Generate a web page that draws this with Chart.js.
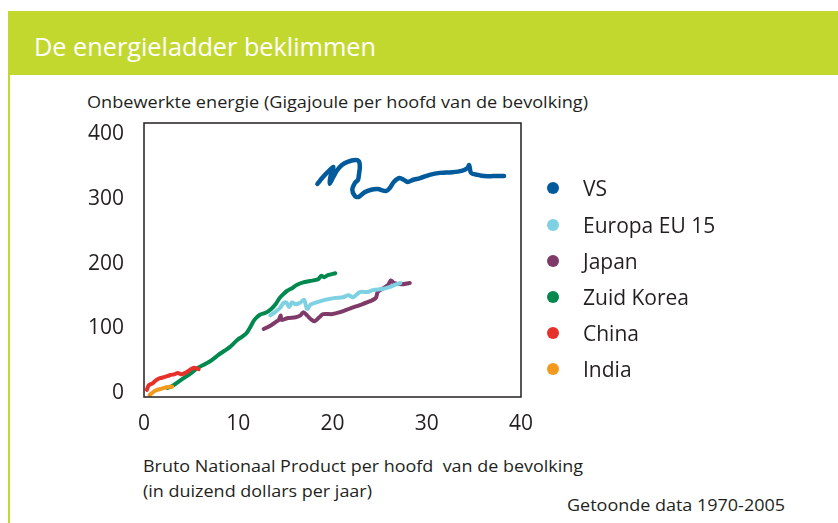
<!DOCTYPE html>
<html>
<head>
<meta charset="utf-8">
<script src="https://cdn.jsdelivr.net/npm/chart.js@4.4.0/dist/chart.umd.min.js"></script>
<style>
  html, body { margin:0; padding:0; background:#fff; }
  #wrap { position:relative; width:838px; height:523px; overflow:hidden; font-family:'Open Sans', sans-serif; color:#231f20; }
  #banner { position:absolute; left:8px; top:11px; width:830px; height:64px; background:#c3d82f; }
  #stripe { position:absolute; left:8px; top:75px; width:2px; height:448px; background:#c3d82f; }
  .txt { position:absolute; white-space:pre; transform-origin:0 50%; }
  #chartBox { position:absolute; left:0; top:0; width:838px; height:523px; }
  .leg { position:absolute; left:547px; height:24px; }
  .leg .dot { position:absolute; left:0; top:6px; width:12px; height:12px; border-radius:50%; }
  .leg .lab { position:absolute; left:36px; top:0; font-size:21px; line-height:24px; white-space:nowrap; }
</style>
</head>
<body>
<div id="wrap">
  <div id="banner"></div>
  <div id="stripe"></div>
  <div class="txt" id="title" data-w="342" style="left:34px; top:31px; font-size:26px; line-height:30px; color:#fff;">De energieladder beklimmen</div>
  <div class="txt" id="ytitle" data-w="501" style="left:87px; top:92px; font-size:16px; line-height:20px;">Onbewerkte energie (Gigajoule per hoofd van de bevolking)</div>
  <div class="txt" data-w="440" style="left:143px; top:456px; font-size:16px; line-height:20px;">Bruto Nationaal Product per hoofd  van de bevolking</div>
  <div class="txt" data-w="229" style="left:143px; top:481px; font-size:16px; line-height:20px;">(in duizend dollars per jaar)</div>
  <div class="txt" data-w="218" style="left:567px; top:495px; font-size:16px; line-height:20px;">Getoonde data 1970-2005</div>
  <div id="chartBox"><canvas id="chart" width="838" height="523"></canvas></div>
  <div id="legend"></div>
</div>
<script>
// assen
const xTicks = [0, 10, 20, 30, 40];
const yTicks = [0, 100, 200, 300, 400];

// series (BNP per hoofd in k$, energie in GJ per hoofd)
const seriesNames = ['VS', 'Europa EU 15', 'Japan', 'Zuid Korea', 'China', 'India'];
const seriesColors = ['#005a9c', '#7dd1e2', '#7f3a69', '#00894f', '#e8302a', '#f39a1e'];

const usX = [18.4, 18.9, 19.4, 20.1, 19.8, 19.7, 20.1, 20.5, 21.0, 21.6, 22.4, 22.8, 22.9, 22.8, 22.7, 22.4, 22.1, 22.4, 22.8, 23.4, 24.1, 24.8, 25.7, 26.1, 26.5, 27.1, 27.6, 28.0, 28.5, 29.3, 30.3, 31.4, 32.7, 33.7, 34.3, 34.5, 34.7, 35.4, 36.1, 37.1, 38.2];
const usY = [323, 332, 340, 349, 335, 323, 334, 344, 352, 357, 360, 358, 349, 337, 329, 325, 314, 304, 303, 310, 314, 315, 312, 317, 326, 332, 329, 326, 329, 332, 337, 340, 341, 343, 347, 352, 340, 337, 335, 335, 335];

const euX = [13.4, 13.9, 14.4, 14.8, 15.1, 15.4, 15.7, 16.1, 16.6, 17.0, 17.3, 17.7, 18.3, 19.2, 20.3, 21.1, 21.7, 22.2, 22.9, 23.7, 24.3, 25.4, 26.1, 26.6, 27.2];
const euY = [120, 125, 131, 139, 140, 133, 140, 137, 140, 144, 130, 137, 140, 144, 147, 148, 151, 148, 156, 156, 159, 161, 164, 167, 170];

const jpX = [12.7, 13.4, 14.0, 14.3, 14.5, 14.6, 15.3, 16.1, 16.6, 16.9, 17.3, 17.7, 18.1, 18.6, 19.0, 20.0, 20.8, 21.9, 22.9, 24.0, 24.6, 24.8, 25.4, 25.9, 26.2, 26.5, 27.3, 28.2];
const jpY = [99, 104, 110, 113, 120, 113, 116, 117, 120, 125, 120, 114, 111, 117, 122, 122, 125, 131, 136, 142, 147, 156, 162, 167, 174, 170, 168, 170];

const krX = [2.5, 3.0, 3.6, 4.2, 5.0, 5.7, 6.5, 7.2, 7.9, 8.5, 9.1, 9.9, 10.5, 10.9, 11.4, 11.7, 12.3, 12.9, 13.5, 14.0, 14.4, 14.8, 15.2, 15.7, 16.2, 16.9, 17.6, 18.5, 18.8, 19.1, 19.5, 20.3];
const krY = [8, 11, 17, 23, 31, 39, 45, 51, 59, 65, 71, 82, 88, 93, 105, 113, 121, 124, 130, 138, 147, 153, 158, 162, 167, 171, 173, 176, 181, 179, 182, 185];

const cnX = [0.3, 0.5, 0.9, 1.3, 1.7, 2.2, 2.8, 3.2, 3.6, 4.0, 4.5, 4.9, 5.3, 5.8];
const cnY = [5, 12, 15, 20, 23, 25, 28, 29, 31, 29, 32, 36, 39, 37];

const inX = [0.6, 1.0, 1.4, 1.9, 2.4, 3.0];
const inY = [-3, 2, 5, 7, 9, 10];

const allX = [usX, euX, jpX, krX, cnX, inX];
const allY = [usY, euY, jpY, krY, cnY, inY];
const drawOrder = [0, 0, 0, 1, 0, 0]; // Korea onder de rest

const datasets = seriesNames.map((name, i) => ({
  label: name,
  data: allX[i].map((x, k) => ({ x: x, y: allY[i][k] })),
  showLine: true,
  borderColor: seriesColors[i],
  backgroundColor: seriesColors[i],
  borderWidth: i === 0 ? 4.5 : 4,
  borderCapStyle: 'round',
  borderJoinStyle: 'round',
  tension: 0.3,
  pointRadius: 0,
  order: drawOrder[i]
}));

// kader rond het plotgebied
const framePlugin = {
  id: 'frame',
  afterDraw(chart) {
    const a = chart.chartArea, c = chart.ctx;
    c.save();
    c.strokeStyle = '#231f20';
    c.lineWidth = 1.5;
    c.strokeRect(a.left, a.top, a.right - a.left, a.bottom - a.top);
    c.restore();
  }
};

new Chart(document.getElementById('chart'), {
  type: 'scatter',
  data: { datasets: datasets },
  plugins: [framePlugin],
  options: {
    responsive: false,
    animation: false,
    layout: { padding: { left: 0, top: 123, right: 317, bottom: 86 } },
    plugins: { legend: { display: false }, tooltip: { enabled: false } },
    scales: {
      x: {
        type: 'linear', min: 0, max: 40,
        afterBuildTicks: s => { s.ticks = xTicks.map(v => ({ value: v })); },
        afterFit: s => { s.height = 40; },
        grid: { display: false, drawTicks: false },
        border: { display: false },
        ticks: { color: '#231f20', padding: 14, font: { family: 'Open Sans', size: 21 } }
      },
      y: {
        type: 'linear', min: -6, max: 417,
        afterBuildTicks: s => { s.ticks = yTicks.map(v => ({ value: v })); },
        afterFit: s => { s.width = 144; },
        grid: { display: false, drawTicks: false },
        border: { display: false },
        ticks: { color: '#231f20', padding: 20, font: { family: 'Open Sans', size: 21 } }
      }
    }
  }
});

// legenda
const legendTops = [188, 225, 261, 297, 333, 369];
document.getElementById('legend').innerHTML = seriesNames.map((n, i) => `
  <div class="leg" style="top:${legendTops[i] - 12}px">
    <span class="dot" style="background:${seriesColors[i]}"></span>
    <span class="lab">${n}</span>
  </div>`).join('');

// tekstbreedte aanpassen aan origineel
document.querySelectorAll('.txt[data-w]').forEach(el => {
  const w = el.getBoundingClientRect().width;
  const target = parseFloat(el.dataset.w);
  if (w > 0) el.style.transform = `scaleX(${target / w})`;
});
</script>
</body>
</html>
